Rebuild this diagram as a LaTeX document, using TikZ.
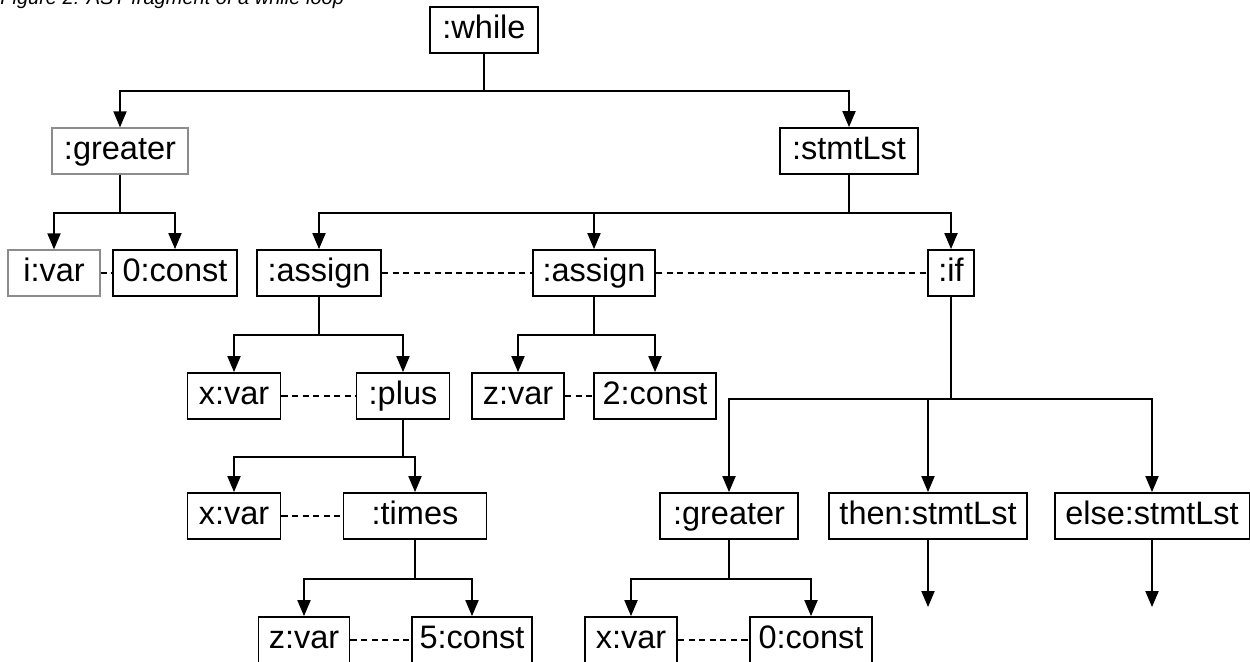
\documentclass[tikz,border=0pt]{standalone}
\usepackage{fontspec}
\setmainfont{Liberation Sans}
\usetikzlibrary{arrows}

\begin{document}
\begin{tikzpicture}
[>=triangle 45, x=0.02cm, y=-0.02cm,
	box/.style={draw, line width=1.1pt, minimum height=0.92cm, inner sep=0pt,
		text height=13.5pt, text depth=3.6pt, font=\fontsize{18.5}{22}\selectfont},
	greybox/.style={box, draw=black!45, line width=0.8pt},
	edge/.style={->, line width=1.1pt},
	link/.style={line width=1pt, dash pattern=on 3.6pt off 2.4pt}]

	\useasboundingbox (0,0) rectangle (1250,662);
	%\draw[gray,step=50] (0,0) grid (1250,662);

	\node [anchor=base west, inner sep=0pt, font=\fontsize{11.4}{13}\selectfont\itshape]
	(caption) at (0,4.5) {Figure 2: AST fragment of a while loop};

	% root and first level
	\node [box, minimum width=2.16cm] (while) at (484,30) {:while};
	\node [greybox, minimum width=2.72cm] (greater1) at (120,151) {:greater};
	\node [box, minimum width=2.76cm] (stmtLst) at (849,151) {:stmtLst};

	% second level
	\node [greybox, minimum width=1.84cm] (ivar) at (54,273) {i:var};
	\node [box, minimum width=2.48cm] (const0a) at (175,273) {0:const};
	\node [box, minimum width=2.48cm] (assign1) at (319,273) {:assign};
	\node [box, minimum width=2.44cm] (assign2) at (594,273) {:assign};
	\node [box, minimum width=0.92cm] (if) at (951,273) {:if};

	% third level
	\node [box, minimum width=1.86cm] (xvar1) at (234,396) {x:var};
	\node [box, minimum width=1.86cm] (plus) at (403,396) {:plus};
	\node [box, minimum width=1.84cm] (zvar1) at (518,396) {z:var};
	\node [box, minimum width=2.44cm] (const2) at (655,396) {2:const};

	% fourth level
	\node [box, minimum width=1.86cm] (xvar2) at (234,516) {x:var};
	\node [box, minimum width=2.86cm] (times) at (415,516) {:times};
	\node [box, minimum width=2.76cm] (greater2) at (729,516) {:greater};
	\node [box, minimum width=3.96cm] (then) at (928,516) {then:stmtLst};
	\node [box, minimum width=3.90cm] (else) at (1152,516) {else:stmtLst};

	% fifth level
	\node [box, minimum width=1.82cm] (zvar2) at (304,640) {z:var};
	\node [box, minimum width=2.40cm] (const5) at (472,640) {5:const};
	\node [box, minimum width=1.84cm] (xvar3) at (631,640) {x:var};
	\node [box, minimum width=2.44cm] (const0b) at (811,640) {0:const};

	\coordinate (thenEnd) at (928,607);
	\coordinate (elseEnd) at (1152,607);

	% tree edges
	\draw[edge] (while.south) -- ++(0,37) -| (greater1.north);
	\draw[edge] (while.south) -- ++(0,37) -| (stmtLst.north);

	\draw[edge] (greater1.south) -- ++(0,38) -| (ivar.north);
	\draw[edge] (greater1.south) -- ++(0,38) -| (const0a.north);

	\draw[edge] (stmtLst.south) -- ++(0,38) -| (assign1.north);
	\draw[edge] (stmtLst.south) -- ++(0,38) -| (assign2.north);
	\draw[edge] (stmtLst.south) -- ++(0,38) -| (if.north);

	\draw[edge] (assign1.south) -- ++(0,38) -| (xvar1.north);
	\draw[edge] (assign1.south) -- ++(0,38) -| (plus.north);
	\draw[edge] (assign2.south) -- ++(0,38) -| (zvar1.north);
	\draw[edge] (assign2.south) -- ++(0,38) -| (const2.north);

	\draw[edge] (if.south) -- ++(0,102) -| (greater2.north);
	\draw[edge] (if.south) -- ++(0,102) -| (then.north);
	\draw[edge] (if.south) -- ++(0,102) -| (else.north);

	\draw[edge] (plus.south) -- ++(0,37) -| (xvar2.north);
	\draw[edge] (plus.south) -- ++(0,37) -| (times.north);

	\draw[edge] (times.south) -- ++(0,39) -| (zvar2.north);
	\draw[edge] (times.south) -- ++(0,39) -| (const5.north);
	\draw[edge] (greater2.south) -- ++(0,39) -| (xvar3.north);
	\draw[edge] (greater2.south) -- ++(0,39) -| (const0b.north);

	\draw[edge] (then) -- (thenEnd);
	\draw[edge] (else) -- (elseEnd);

	% sibling links
	\draw[link] (ivar) -- (const0a);
	\draw[link] (assign1) -- (assign2);
	\draw[link] (assign2) -- (if);
	\draw[link] (xvar1) -- (plus);
	\draw[link] (zvar1) -- (const2);
	\draw[link] (xvar2) -- (times);
	\draw[link] (zvar2) -- (const5);
	\draw[link] (xvar3) -- (const0b);
\end{tikzpicture}
\end{document}
